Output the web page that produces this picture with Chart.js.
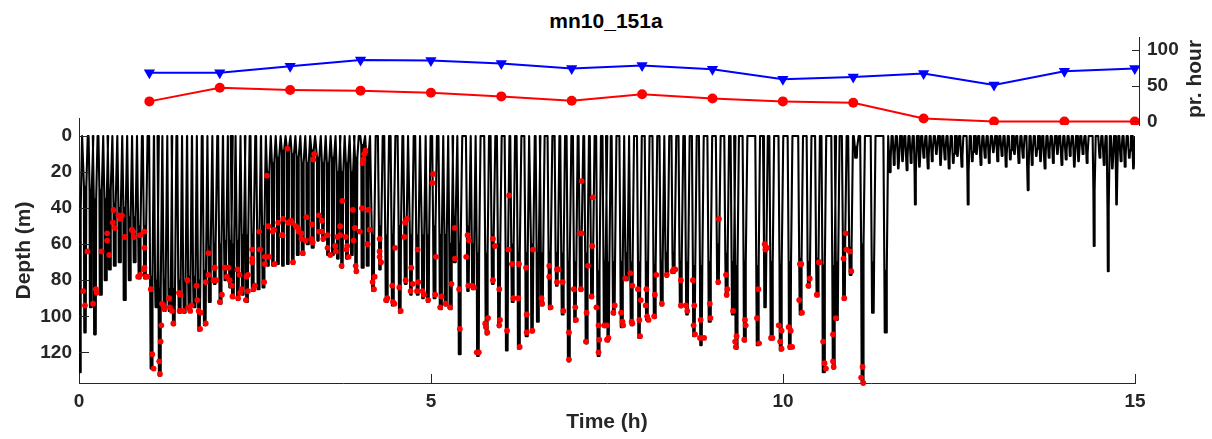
<!DOCTYPE html>
<html>
<head>
<meta charset="utf-8">
<script src="https://cdn.jsdelivr.net/npm/chart.js@4.4.1/dist/chart.umd.min.js"></script>
<style>
  html, body { margin: 0; padding: 0; background: #fff; }
  #wrap { position: relative; width: 1212px; height: 439px; }
  #wrap canvas { position: absolute; left: 0; top: 0; }
  #title { position: absolute; left: 0; width: 1212px; top: 9px; text-align: center;
           font: bold 21px "Liberation Sans", Arial, sans-serif; color: #000; }
</style>
</head>
<body>
<div id="wrap">
  <div id="title">mn10_151a</div>
  <canvas id="rateChart" width="1212" height="439"></canvas>
  <canvas id="diveChart" width="1212" height="439"></canvas>
</div>
<script>
// top panel: counts per hour
const hourMarks = [1, 2, 3, 4, 5, 6, 7, 8, 9, 10, 11, 12, 13, 14, 15];
const blueRate  = [68, 68, 77, 86, 85, 81, 74, 78, 73, 59, 62, 67, 51, 70, 74];
const redRate   = [28, 47, 44, 43, 40, 35, 29, 38, 32, 28, 26, 4, 0, 0, 0];
const rateTicks = [0, 50, 100];

// dive profile: time of dive (h), max depth (m), shallowest depth of the bottom phase (m)
const diveTime = [
  0.01, 0.09, 0.17, 0.23, 0.31, 0.38, 0.44, 0.51, 0.58, 0.65, 0.72, 0.79, 0.86, 0.94,
  1.03, 1.10, 1.15, 1.22, 1.29, 1.35, 1.43, 1.50, 1.57, 1.64, 1.71, 1.79,
  1.86, 1.93, 2.01, 2.08, 2.15, 2.19, 2.26, 2.33, 2.39, 2.47, 2.55, 2.62,
  2.69, 2.76, 2.83, 2.90, 2.97, 3.04, 3.11, 3.18, 3.25, 3.32, 3.40, 3.47, 3.54, 3.61, 3.68, 3.74, 3.81, 3.88, 3.94, 4.03, 4.10,
  4.18, 4.28, 4.37, 4.46, 4.56, 4.64, 4.72, 4.81, 4.89, 4.96, 5.05, 5.14, 5.21, 5.28, 5.34, 5.41,
  5.53, 5.60, 5.67, 5.79, 5.88, 5.97, 6.08, 6.16, 6.25, 6.36, 6.44, 6.52, 6.58, 6.69, 6.79, 6.87, 6.96,
  7.05, 7.13, 7.21, 7.29, 7.38, 7.47, 7.52, 7.60, 7.71, 7.78, 7.85, 7.96, 8.07, 8.18, 8.28, 8.35, 8.45, 8.55, 8.64, 8.74, 8.84, 8.96,
  9.08, 9.20, 9.29, 9.34, 9.46, 9.64, 9.75, 9.84, 9.97, 10.10, 10.25, 10.37, 10.49, 10.58, 10.72, 10.77, 10.87, 10.96, 11.04, 11.13, 11.28, 11.46,
  11.52, 11.58, 11.64, 11.70, 11.76, 11.82, 11.88, 11.94, 12.00, 12.06, 12.12, 12.18, 12.24, 12.30, 12.36, 12.42, 12.48, 12.54,
  12.63, 12.69, 12.75, 12.81, 12.87, 12.93, 12.99, 13.05, 13.11, 13.17, 13.23, 13.29, 13.35, 13.41, 13.48, 13.54, 13.60, 13.66,
  13.72, 13.78, 13.84, 13.90, 13.96, 14.02, 14.08, 14.14, 14.20, 14.26, 14.32, 14.42, 14.50, 14.56, 14.62, 14.68, 14.74, 14.80,
  14.86, 14.92, 14.98
];
const diveDepth = [
  131, 109, 95, 110, 88, 80, 74, 72, 70, 91, 80, 70, 79, 79,
  129, 95, 133, 97, 97, 105, 98, 98, 97, 95, 108, 105,
  92, 82, 93, 80, 84, 90, 91, 88, 92, 86, 85, 84,
  72, 72, 71, 72, 71, 71, 66, 66, 60, 62, 58, 58, 66, 66, 68, 73, 68, 66, 76, 73, 72,
  86, 74, 92, 94, 98, 82, 88, 88, 90, 92, 90, 96, 94, 96, 70, 121,
  86, 85, 122, 110, 82, 106, 119, 92, 118, 111, 109, 103, 94, 96, 83, 99, 125,
  103, 86, 115, 90, 122, 106, 114, 99, 106, 80, 105, 112, 102, 101, 94, 78, 76, 95, 99, 111, 116, 103,
  82, 89, 99, 118, 114, 116, 95, 113, 119, 118, 99, 84, 89, 131, 129, 102, 91, 77, 12, 137, 98, 109,
  20, 16, 18, 14, 19, 15, 38, 17, 12, 18, 14, 10, 16, 13, 18, 15, 11, 17,
  38, 14, 10, 16, 12, 15, 9, 14, 11, 17, 13, 10, 15, 12, 30, 16, 11, 14,
  18, 12, 15, 10, 16, 13, 11, 17, 14, 10, 15, 61, 12, 16, 75, 18, 38, 14,
  17, 12, 18
];
const diveFloor = [
  40, 28, 30, 35, 30, 35, 30, 38, 40, 40, 45, 45, 50, 50,
  78, 80, 85, 80, 85, 85, 80, 80, 78, 78, 80, 75,
  62, 60, 60, 58, 58, 60, 58, 55, 55, 55, 52, 50,
  20, 15, 12, 8, 6, 10, 12, 15, 15, 8, 12, 15, 15, 12, 20, 20, 15, 20, 12, 5, 10,
  55, 50, 55, 55, 50, 50, 55, 55, 55, 55, 50, 55, 55, 60, 45, 60,
  50, 60, 65, 65, 55, 60, 65, 60, 65, 65, 60, 65, 65, 65, 65, 65, 70,
  70, 55, 65, 60, 75, 70, 70, 70, 70, 65, 70, 70, 70, 72, 70, 65, 65, 70, 70, 72, 72, 70,
  60, 65, 70, 72, 70, 72, 62, 70, 72, 70, 68, 70, 68, 72, 72, 70, 55, 62, 6, 60, 70, 75,
  13, 10, 12, 9, 12, 10, 20, 11, 8, 12, 9, 6, 10, 8, 12, 10, 7, 11,
  20, 9, 6, 10, 8, 10, 6, 9, 7, 11, 8, 6, 10, 8, 18, 10, 7, 9,
  12, 8, 10, 6, 10, 8, 7, 11, 9, 6, 10, 30, 8, 10, 40, 12, 20, 9,
  11, 8, 12
];

// red markers on the profile (time h, depth m)
const buzzTime = [
  0.06, 0.085, 0.12, 0.20, 0.24, 0.25, 0.32, 0.40, 0.40, 0.43, 0.48, 0.49, 0.51, 0.56, 0.59, 0.61, 0.65, 0.75, 0.77, 0.78, 0.84, 0.87, 0.87, 0.92, 0.93, 0.93, 0.93, 0.95, 0.97,
  1.02, 1.04, 1.06, 1.14, 1.15, 1.16, 1.17, 1.18, 1.20, 1.21, 1.28, 1.29, 1.32, 1.34, 1.42, 1.44, 1.43, 1.48, 1.54, 1.55, 1.58, 1.60, 1.67, 1.68, 1.70, 1.72, 1.73, 1.80, 1.80,
  1.84, 1.84, 1.91, 1.92, 1.93, 1.95, 2.00, 2.03, 2.07, 2.10, 2.12, 2.14, 2.17, 2.18, 2.25, 2.26, 2.28, 2.29, 2.31, 2.37, 2.38, 2.40, 2.40, 2.46, 2.46, 2.46, 2.48, 2.50, 2.56, 2.57, 2.63, 2.64, 2.64, 2.67, 2.69, 2.70, 2.75, 2.77, 2.78,
  2.83, 2.88, 2.89, 2.90, 2.96, 2.97, 3.01, 3.02, 3.04, 3.08, 3.11, 3.12, 3.16, 3.16, 3.18, 3.22, 3.23, 3.30, 3.31, 3.32, 3.33, 3.34, 3.41, 3.41, 3.45, 3.45, 3.47, 3.53, 3.53, 3.57, 3.64, 3.65, 3.67, 3.71, 3.71, 3.74, 3.73, 3.79, 3.80, 3.81, 3.83, 3.89, 3.90, 3.92, 3.93, 3.94, 3.99, 4.02, 4.03, 4.04, 4.05, 4.07, 4.10, 4.11, 4.13,
  4.17, 4.20, 4.19, 4.27, 4.27, 4.27, 4.29, 4.36, 4.38, 4.45, 4.46, 4.48, 4.49, 4.55, 4.57, 4.62, 4.63, 4.64, 4.66, 4.71, 4.72, 4.74, 4.80, 4.81, 4.82, 4.88, 4.90, 4.96, 5.02, 5.03, 5.06, 5.07, 5.13, 5.15, 5.21, 5.27, 5.29, 5.34, 5.34, 5.40, 5.41,
  5.50, 5.52, 5.53, 5.54, 5.58, 5.61, 5.65, 5.68, 5.77, 5.78, 5.80, 5.81, 5.88, 5.88, 5.91, 5.97, 5.97, 5.98, 6.08, 6.10, 6.11, 6.15, 6.17, 6.24, 6.25, 6.26, 6.35, 6.36, 6.36, 6.44, 6.45, 6.57, 6.58, 6.68, 6.68, 6.70, 6.79, 6.79, 6.81, 6.87, 6.88, 6.96, 6.96,
  7.03, 7.05, 7.06, 7.11, 7.13, 7.14, 7.14, 7.20, 7.21, 7.23, 7.28, 7.30, 7.29, 7.35, 7.38, 7.39, 7.38, 7.46, 7.50, 7.50, 7.52, 7.59, 7.61, 7.70, 7.72, 7.73, 7.76, 7.83, 7.85, 7.86, 7.86, 7.94, 7.96, 7.97, 7.98, 8.05, 8.06, 8.07, 8.09, 8.17, 8.18, 8.20, 8.28, 8.35, 8.43, 8.45, 8.47, 8.55, 8.55, 8.62, 8.64, 8.72, 8.73, 8.74, 8.75, 8.82, 8.83, 8.88, 8.96, 8.97,
  9.08, 9.09, 9.19, 9.20, 9.21, 9.29, 9.32, 9.33, 9.34, 9.45, 9.46, 9.47, 9.63, 9.65, 9.66, 9.74, 9.75, 9.77, 9.83, 9.85, 9.94, 9.96, 9.98, 9.98, 10.08, 10.10, 10.11, 10.13, 10.23, 10.24, 10.26, 10.27, 10.36, 10.38, 10.48, 10.51, 10.52, 10.57, 10.59, 10.61, 10.71, 10.71, 10.72, 10.75, 10.86, 10.87, 10.89, 10.90, 10.95, 10.97, 11.11, 11.13, 11.14
];
const buzzDepth = [
  86, 94, 64, 93, 85, 87, 64, 54, 58, 66, 48, 41, 51, 44, 46, 44, 56, 52, 53, 56, 78, 55, 77, 74, 53, 62, 73, 78, 78,
  85, 121, 129, 125, 132, 114, 105, 93, 94, 96, 90, 95, 97, 104, 87, 88, 97, 97, 80, 95, 97, 94, 83, 91, 97, 107, 98, 104, 81,
  77, 65, 80, 73, 73, 80, 92, 88, 73, 78, 73, 80, 83, 89, 74, 90, 77, 87, 85, 91, 78, 77, 86, 63, 68, 70, 85, 83, 53, 63, 81, 67, 71, 22, 50, 67, 53, 52, 71,
  48, 55, 55, 46, 7, 48, 47, 48, 70, 50, 51, 53, 54, 57, 65, 58, 45, 57, 49, 59, 13, 10, 44, 53, 47, 53, 57, 55, 62, 66, 61, 64, 56, 50, 55, 36, 72, 56, 63, 61, 67, 41, 58, 51, 72, 75, 53, 40, 15, 13, 10, 8, 60, 41, 52,
  81, 78, 85, 57, 64, 67, 70, 91, 90, 83, 92, 93, 62, 84, 97, 56, 48, 80, 46, 86, 73, 82, 86, 63, 81, 86, 88, 91, 26, 21, 88, 67, 95, 89, 93, 95, 82, 51, 68, 85, 107,
  67, 55, 83, 58, 83, 84, 120, 120, 104, 106, 109, 101, 57, 80, 61, 85, 105, 102, 108, 63, 33, 71, 90, 90, 71, 117, 73, 99, 109, 108, 63, 90, 93, 72, 78, 95, 81, 74, 74, 81, 97, 109, 124,
  85, 95, 102, 54, 85, 25, 54, 114, 98, 72, 89, 34, 61, 95, 105, 113, 120, 105, 105, 113, 112, 98, 94, 98, 103, 105, 79, 76, 103, 83, 104, 85, 102, 111, 91, 94, 85, 100, 102, 100, 88, 77, 93, 77, 75, 74, 74, 80, 94, 94, 97, 80, 105, 94, 110, 112, 102, 112, 93, 101,
  81, 46, 77, 88, 85, 97, 114, 117, 111, 113, 102, 105, 101, 85, 115, 60, 63, 62, 112, 112, 105, 114, 108, 118, 106, 117, 108, 117, 91, 71, 71, 98, 83, 79, 88, 70, 70, 114, 126, 129, 110, 125, 128, 101, 68, 90, 54, 63, 64, 75, 134, 128, 137
];
const depthTicks = [0, 20, 40, 60, 80, 100, 120];
const timeTicks = [0, 5, 10, 15];

// build the line of the dive profile from the dive table
// each step: [time offset (h), level] where level 0 = surface, 1 = floor, 2 = max depth
const deepShape = [[-0.034, 0], [-0.02, 1], [-0.015, 2], [-0.01, 1], [-0.004, 2], [0.002, 1], [0.008, 2], [0.014, 1], [0.034, 0]];
const shallowShape = [[-0.022, 0], [-0.011, 1], [-0.006, 2], [-0.001, 1], [0.004, 2], [0.009, 1], [0.022, 0]];
const profile = [];
diveTime.forEach((t, i) => {
  const shape = t > 11.5 ? shallowShape : deepShape;
  const lvl = [0, diveFloor[i], diveDepth[i]];
  shape.forEach(([dt, k]) => profile.push({ x: t + dt, y: lvl[k] }));
});
const buzzes = buzzTime.map((t, i) => ({ x: t, y: buzzDepth[i] }));

const axisColor = '#262626';
const tickFont = { family: '"Liberation Sans", Arial, sans-serif', size: 19, weight: 'bold' };
const titleFont = { family: '"Liberation Sans", Arial, sans-serif', size: 21, weight: 'bold' };

// MATLAB-style ticks pointing into the plot
function innerTicks(spec) {
  return {
    id: 'innerTicks',
    afterDraw(chart) {
      const ctx = chart.ctx;
      ctx.save();
      ctx.strokeStyle = axisColor;
      ctx.lineWidth = 1;
      spec.forEach(s => {
        const sc = chart.scales[s.axis];
        s.values.forEach(v => {
          const p = Math.round(sc.getPixelForValue(v)) + 0.5;
          ctx.beginPath();
          if (s.axis === 'x') {
            ctx.moveTo(p, sc.top); ctx.lineTo(p, sc.top - s.len);
          } else if (s.side === 'right') {
            ctx.moveTo(sc.left, p); ctx.lineTo(sc.left - s.len, p);
          } else {
            ctx.moveTo(sc.right, p); ctx.lineTo(sc.right + s.len, p);
          }
          ctx.stroke();
        });
      });
      ctx.restore();
    }
  };
}

const rightLabel = {
  id: 'rightLabel',
  afterDraw(chart) {
    const ctx = chart.ctx;
    const sc = chart.scales.y;
    ctx.save();
    ctx.translate(1195, (sc.top + sc.bottom) / 2 - 2);
    ctx.rotate(-Math.PI / 2);
    ctx.font = 'bold 21px "Liberation Sans", Arial, sans-serif';
    ctx.fillStyle = axisColor;
    ctx.textAlign = 'center';
    ctx.textBaseline = 'middle';
    ctx.fillText('pr. hour', 0, 0);
    ctx.restore();
  }
};

new Chart(document.getElementById('rateChart').getContext('2d'), {
  type: 'line',
  data: {
    datasets: [{
      data: hourMarks.map((h, i) => ({ x: h, y: blueRate[i] })),
      borderColor: '#0000ff',
      backgroundColor: '#0000ff',
      borderWidth: 2,
      pointStyle: 'triangle',
      rotation: 180,
      pointRadius: 6.5,
      pointBorderWidth: 0
    }, {
      data: hourMarks.map((h, i) => ({ x: h, y: redRate[i] })),
      borderColor: '#ff0000',
      backgroundColor: '#ff0000',
      borderWidth: 2,
      pointStyle: 'circle',
      pointRadius: 5,
      pointBorderWidth: 0
    }]
  },
  options: {
    responsive: false,
    animation: false,
    layout: { padding: { left: 79, top: 37, right: 0, bottom: 314 } },
    plugins: { legend: { display: false }, tooltip: { enabled: false } },
    scales: {
      x: { type: 'linear', display: false, min: 0, max: 15.06 },
      y: {
        position: 'right',
        min: -5, max: 118,
        afterFit: s => { s.width = 73; },
        afterBuildTicks: s => { s.ticks = rateTicks.map(v => ({ value: v })); },
        grid: { display: false, drawTicks: false },
        border: { display: true, color: axisColor, width: 1 },
        ticks: { color: axisColor, font: tickFont, padding: 8 }
      }
    }
  },
  plugins: [innerTicks([{ axis: 'y', side: 'right', values: rateTicks, len: 7 }]), rightLabel]
});

new Chart(document.getElementById('diveChart').getContext('2d'), {
  type: 'scatter',
  data: {
    datasets: [{
      data: buzzes,
      showLine: false,
      pointRadius: 2.9,
      pointBorderWidth: 0,
      backgroundColor: '#ff0000',
      clip: 6
    }, {
      data: profile,
      showLine: true,
      borderColor: '#000000',
      borderWidth: 2.1,
      borderJoinStyle: 'round',
      pointRadius: 0,
      tension: 0
    }]
  },
  options: {
    responsive: false,
    animation: false,
    layout: { padding: { left: 0, top: 118, right: 77, bottom: 0 } },
    plugins: { legend: { display: false }, tooltip: { enabled: false } },
    scales: {
      x: {
        type: 'linear', min: 0, max: 15,
        afterFit: s => { s.height = 56; },
        afterBuildTicks: s => { s.ticks = timeTicks.map(v => ({ value: v })); },
        grid: { display: false, drawTicks: false },
        border: { display: true, color: axisColor, width: 1 },
        ticks: { color: axisColor, font: tickFont, padding: 7, maxRotation: 0 },
        title: { display: true, text: 'Time (h)', color: axisColor, font: titleFont, padding: { top: 0, bottom: 4 } }
      },
      y: {
        type: 'linear', reverse: true, min: -10, max: 137,
        afterFit: s => { s.width = 79; },
        afterBuildTicks: s => { s.ticks = depthTicks.map(v => ({ value: v })); },
        grid: { display: false, drawTicks: false },
        border: { display: true, color: axisColor, width: 1 },
        ticks: { color: axisColor, font: tickFont, padding: 7 },
        title: { display: true, text: 'Depth (m)', color: axisColor, font: titleFont, padding: { top: 12, bottom: 0 } }
      }
    }
  },
  plugins: [innerTicks([
    { axis: 'x', values: timeTicks, len: 9 },
    { axis: 'y', side: 'left', values: depthTicks, len: 10 }
  ])]
});
</script>
</body>
</html>
